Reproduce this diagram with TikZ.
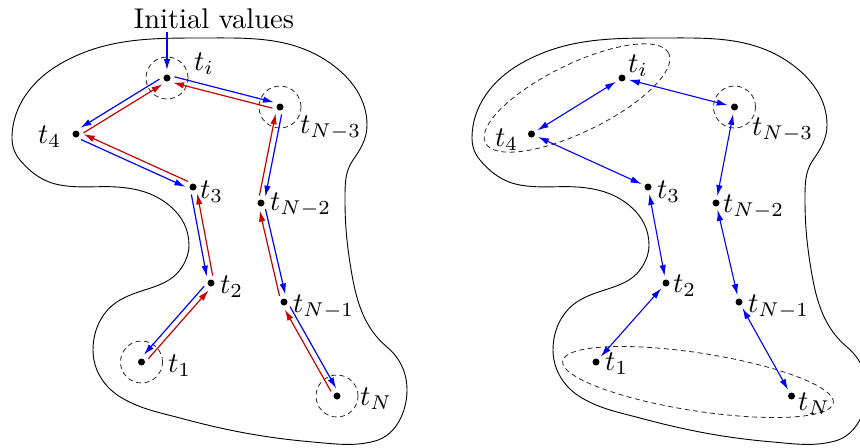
\documentclass[tikz,border=0pt]{standalone}
\usetikzlibrary{arrows.meta,calc}
\definecolor{myblue}{RGB}{0,0,255}
\definecolor{myred}{RGB}{200,0,0}
\tikzset{
  dotnode/.style={circle, fill=black, inner sep=0pt, minimum size=2.46pt},
  lab/.style={anchor=base west, inner sep=0pt},
  fwd/.style={draw=myblue, line width=0.42pt, -{Latex[length=3.86pt,width=2.28pt]}, shorten <=2.46pt, shorten >=2.46pt},
  bwd/.style={draw=myred, line width=0.42pt, -{Latex[length=3.86pt,width=2.28pt]}, shorten <=2.46pt, shorten >=2.46pt},
  both/.style={draw=myblue, line width=0.39pt, {Latex[length=3.86pt,width=2.28pt]}-{Latex[length=3.86pt,width=2.28pt]}, shorten <=1.05pt, shorten >=1.05pt},
  ring/.style={draw=black!85, line width=0.28pt, dash pattern=on 1.75pt off 1.23pt},
  blob/.style={draw=black, line width=0.32pt},
}
% #1 from, #2 to, #3 side angle of blue, #4 the opposite angle
\newcommand\twoway[4]{%
  \draw[fwd] ($(#1.center)!1.05pt!#3:(#2.center)$) -- ($(#2.center)!1.05pt!#4:(#1.center)$);
  \draw[bwd] ($(#2.center)!1.05pt!#3:(#1.center)$) -- ($(#1.center)!1.05pt!#4:(#2.center)$);
}
\def\blobpath{(12,138) .. controls (12,106.2) and (32.5,79.9) .. (60,64)
 .. controls (104.4,38.4) and (148.7,38) .. (200,38)
 .. controls (247.7,38) and (290.9,35.6) .. (330,63)
 .. controls (351.3,77.9) and (367,99) .. (367,125)
 .. controls (367,138.6) and (360.8,148.9) .. (353,160)
 .. controls (344.6,172) and (345,185.3) .. (345,200)
 .. controls (345,227.1) and (347.3,248.3) .. (352,275)
 .. controls (357,303.4) and (364.9,328.5) .. (387,347)
 .. controls (400.1,358) and (407,372.9) .. (407,390)
 .. controls (407,411.7) and (396,435.4) .. (375,441)
 .. controls (353.5,446.8) and (335.2,443.9) .. (313,442)
 .. controls (264.6,437.8) and (226.9,430.6) .. (180,418)
 .. controls (158.7,412.3) and (141.1,409.1) .. (122,398)
 .. controls (104.5,387.9) and (93,370.2) .. (93,350)
 .. controls (93,329.5) and (102.2,310.3) .. (120,300)
 .. controls (141.9,287.3) and (168.6,288.5) .. (182,267)
 .. controls (186.4,260) and (189,253.3) .. (189,245)
 .. controls (189,229.4) and (182,216) .. (170,206)
 .. controls (157.1,195.2) and (143.6,190.3) .. (127,188)
 .. controls (103,184.6) and (83.8,189.2) .. (60,185)
 .. controls (43.3,182) and (30.9,173) .. (20,160)
 .. controls (14.6,153.6) and (12,146.4) .. cycle}
\begin{document}
\begin{tikzpicture}[x=0.3509pt,y=-0.3509pt]
\useasboundingbox (0,0) rectangle (860,447);
% outlines
\draw[blob] \blobpath;
\begin{scope}[shift={(460,0)}]
\draw[blob] \blobpath;
\end{scope}

% ---------- left picture ----------
\node[dotnode] (ti) at (167,78) {};
\node[dotnode] (tn3) at (280,107) {};
\node[dotnode] (t4) at (76,134) {};
\node[dotnode] (t3) at (193,187) {};
\node[dotnode] (tn2) at (261,203) {};
\node[dotnode] (t2) at (211,283) {};
\node[dotnode] (tn1) at (284,302) {};
\node[dotnode] (t1) at (141.5,362) {};
\node[dotnode] (tn) at (337,396) {};

\draw[ring] (ti) circle[radius=7.37pt];
\draw[ring] (tn3) circle[radius=7.37pt];
\draw[ring] (t1) circle[radius=7.37pt];
\draw[ring] (tn) circle[radius=7.37pt];

\node[lab] (lti) at (193.5,70) {$t_i$};
\node[lab] (ltn3) at (299.5,133) {$t_{N-3}$};
\node[lab] (lt4) at (37.5,143) {$t_4$};
\node[lab] (lt3) at (199.5,198) {$t_3$};
\node[lab] (ltn2) at (269.5,210) {$t_{N-2}$};
\node[lab] (lt2) at (219.5,293) {$t_2$};
\node[lab] (ltn1) at (292.5,312) {$t_{N-1}$};
\node[lab] (lt1) at (167.5,372) {$t_1$};
\node[lab] (ltn) at (359.5,405) {$t_N$};

\node[anchor=base, inner sep=1.05pt] (init) at (214,28) {Initial values};
\draw[draw=myblue, line width=0.42pt, -{Latex[length=3.86pt,width=2.28pt]}, shorten >=2.8pt] (ti |- init.south) -- (ti.center);

\twoway{ti}{tn3}{90}{-90}
\twoway{tn3}{tn2}{90}{-90}
\twoway{tn2}{tn1}{90}{-90}
\twoway{tn1}{tn}{90}{-90}
\twoway{ti}{t4}{-90}{90}
\twoway{t4}{t3}{-90}{90}
\twoway{t3}{t2}{-90}{90}
\twoway{t2}{t1}{-90}{90}

% ---------- right picture ----------
\node[dotnode] (ri) at (622,78) {};
\node[dotnode] (rn3) at (734.5,107) {};
\node[dotnode] (r4) at (531.5,134) {};
\node[dotnode] (r3) at (648,187) {};
\node[dotnode] (rn2) at (716,203) {};
\node[dotnode] (r2) at (666,283) {};
\node[dotnode] (rn1) at (739,302) {};
\node[dotnode] (r1) at (596,362) {};
\node[dotnode] (rn) at (791.5,396) {};

\draw[ring] (rn3) circle[radius=7.37pt];
\draw[ring, rotate around={26:(577,98)}] (577,98) ellipse[x radius=35.8pt, y radius=11.93pt];
\draw[ring, rotate around={-8.8:(698,382)}] (698,382) ellipse[x radius=48.07pt, y radius=10.18pt];

\node[lab] (rlti) at (627.5,72) {$t_i$};
\node[lab] (rltn3) at (751.5,135) {$t_{N-3}$};
\node[lab] (rlt4) at (494.5,146) {$t_4$};
\node[lab] (rlt3) at (656.5,198) {$t_3$};
\node[lab] (rltn2) at (722.5,212) {$t_{N-2}$};
\node[lab] (rlt2) at (672.5,292) {$t_2$};
\node[lab] (rltn1) at (747.5,312) {$t_{N-1}$};
\node[lab] (rlt1) at (604.5,370) {$t_1$};
\node[lab] (rltn) at (797.5,410) {$t_N$};

\draw[both] (ri) -- (rn3);
\draw[both] (rn3) -- (rn2);
\draw[both] (rn2) -- (rn1);
\draw[both] (rn1) -- (rn);
\draw[both] (ri) -- (r4);
\draw[both] (r4) -- (r3);
\draw[both] (r3) -- (r2);
\draw[both] (r2) -- (r1);
\end{tikzpicture}
\end{document}
